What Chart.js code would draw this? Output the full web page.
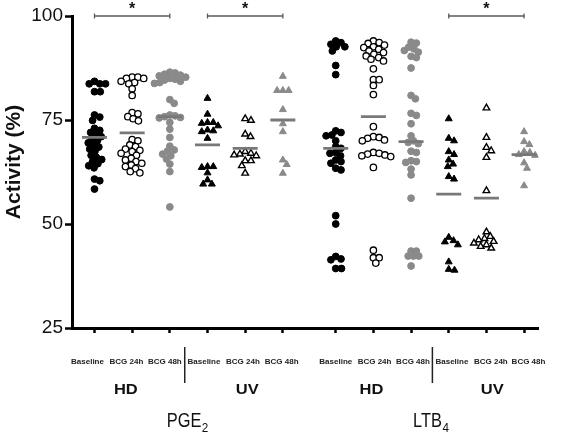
<!DOCTYPE html>
<html>
<head>
<meta charset="utf-8">
<script src="https://cdn.jsdelivr.net/npm/chart.js@4.4.1/dist/chart.umd.min.js"></script>
<style>
  html, body { margin: 0; padding: 0; background: #fff; }
  canvas { display: block; }
</style>
</head>
<body>
<canvas id="c" width="567" height="435"></canvas>
<script>
// ---------------- DATA ----------------
const categories = ['Baseline','BCG 24h','BCG 48h','Baseline','BCG 24h','BCG 48h',
                    'Baseline','BCG 24h','BCG 48h','Baseline','BCG 24h','BCG 48h'];
const cohortLabels = ['HD','UV','HD','UV'];
const mediatorLabels = [['PGE','2'], ['LTB','4']];
const yTicks = [25, 50, 75, 100];
const yAxisTitle = 'Activity (%)';

// PGE2
const pge2HdBaseline = [84.3, 83.7, 83.7, 83.7, 81.8, 81.8, 76.2, 75.7, 74.9, 73.0, 72.5, 72.0, 71.5, 71.0, 70.5,
                        70.0, 69.5, 69.0, 68.5, 68.0, 67.5, 66.5, 66.0, 65.5, 65.0, 64.5, 64.0, 63.5, 60.8, 60.4, 58.4];
const pge2HdBcg24   = [85.3, 85.3, 85.0, 85.0, 84.3, 84.0, 83.7, 82.5, 80.9, 76.8, 76.5, 75.8, 75.3, 74.8, 70.3, 70.0,
                        69.0, 68.6, 68.0, 67.7, 67.4, 67.0, 66.5, 65.8, 65.4, 65.0, 64.6, 64.2, 63.8, 63.3, 62.6, 62.3];
const pge2HdBcg48   = [86.5, 86.3, 86.0, 85.8, 85.6, 85.3, 85.0, 84.8, 84.6, 84.3, 84.0, 83.8, 79.9, 79.0, 76.2, 76.0,
                        75.8, 75.6, 75.5, 74.4, 72.8, 70.8, 68.7, 67.8, 67.5, 66.8, 66.4, 65.6, 64.4, 62.6, 54.1];
const pge2UvBaseline = [80.2, 76.4, 74.4, 74.4, 74.2, 73.6, 72.6, 72.4, 72.2, 70.6, 63.8, 63.8, 63.6, 62.3, 60.6, 59.6, 59.6];
const pge2UvBcg24   = [75.3, 74.9, 71.6, 71.0, 67.4, 67.0, 66.8, 66.6, 66.4, 65.2, 65.2, 64.0, 62.2];
const pge2UvBcg48   = [85.5, 82.1, 82.1, 82.1, 77.5, 74.1, 72.2, 65.4, 64.3, 62.2];
// LTB4
const ltb4HdBaseline = [94.0, 93.6, 93.2, 92.6, 92.6, 91.6, 88.1, 85.9, 72.4, 72.0, 71.4, 71.2, 70.0, 68.6, 68.2,
                        67.2, 67.0, 66.4, 65.4, 65.0, 64.6, 63.4, 63.0, 52.0, 50.0, 42.2, 41.6, 41.4, 39.3, 39.3];
const ltb4HdBcg24   = [94.0, 93.6, 93.4, 93.0, 92.6, 92.4, 92.0, 91.6, 91.2, 90.8, 90.4, 90.0, 89.6, 89.2, 87.3, 84.7,
                        84.7, 83.3, 81.1, 73.4, 71.0, 70.8, 70.6, 70.2, 70.0, 67.2, 67.0, 66.8, 66.6, 66.4, 66.2, 63.6,
                        43.7, 41.9, 41.9, 40.6];
const ltb4HdBcg48   = [93.7, 93.5, 92.5, 92.1, 91.7, 91.3, 90.3, 90.0, 87.5, 80.9, 80.1, 76.6, 76.1, 74.1, 71.2, 70.0,
                        69.6, 69.3, 67.5, 67.2, 65.2, 65.0, 64.8, 63.2, 61.8, 56.2, 43.5, 43.5, 42.3, 42.3, 42.3, 39.9];
const ltb4UvBaseline = [75.3, 70.6, 70.0, 67.4, 66.7, 65.4, 64.4, 63.8, 61.4, 60.8, 46.8, 46.0, 45.7, 45.0, 40.9, 39.1, 38.9];
const ltb4UvBcg24   = [77.9, 70.8, 68.4, 67.6, 66.0, 58.0, 48.1, 47.0, 46.5, 46.2, 45.8, 45.4, 45.0, 44.6, 44.2];
const ltb4UvBcg48   = [72.2, 69.8, 69.1, 67.4, 67.2, 66.7, 66.5, 64.7, 63.4, 59.2];

const groupMeans = [70.8, 71.9, 75.8, 69.0, 68.2, 75.0, 68.2, 75.8, 69.8, 57.2, 56.2, 66.7];
// significance brackets: [from group index, to group index, label]
const brackets = [[0, 2, '*'], [3, 5, '*'], [9, 11, '*']];
const bracketLevel = 100;

// ---------------- LAYOUT / STYLE ----------------
const series = [pge2HdBaseline, pge2HdBcg24, pge2HdBcg48, pge2UvBaseline, pge2UvBcg24, pge2UvBcg48,
                ltb4HdBaseline, ltb4HdBcg24, ltb4HdBcg48, ltb4UvBaseline, ltb4UvBcg24, ltb4UvBcg48];
const groupPos = categories.map((_, i) => i < 6 ? i + 1 : i + 1.403);
// category label anchors (labels in the figure sit slightly off the tick marks)
const labelPos = [0.814, 1.847, 2.867, 3.906, 4.939, 5.967, 7.405, 8.434, 9.454, 10.487, 11.52, 12.52];
const X_MIN = 0.403, X_MAX = 12.783;
const AREA = {left: 72, right: 557, top: 16, bottom: 328};
const X_PX = (AREA.right - AREA.left) / (X_MAX - X_MIN);
const Y_PX = (AREA.bottom - AREA.top) / 75;

const GREY = '#8a8a8a';
const styles = [
  {shape: 'circle',   fill: '#000',  stroke: '#000', r: 3.4, bw: 1,   gap: 5.7},
  {shape: 'circle',   fill: '#fff',  stroke: '#000', r: 3.2, bw: 1.3, gap: 5.8},
  {shape: 'circle',   fill: GREY,    stroke: GREY,   r: 3.4, bw: 1,   gap: 5.5},
  {shape: 'triangle', fill: '#000',  stroke: '#000', r: 4.0, bw: 1,   gap: 6},
  {shape: 'triangle', fill: '#fff',  stroke: '#000', r: 3.8, bw: 1.4, gap: 6},
  {shape: 'triangle', fill: GREY,    stroke: GREY,   r: 4.0, bw: 1,   gap: 6},
];

// Deterministic beeswarm placement (pixel space): each dot takes the
// smallest horizontal offset that keeps it clear of already-placed dots.
function swarm(values, center, gap) {
  const placed = [];
  const sorted = values.slice().sort((a, b) => b - a);
  for (const v of sorted) {
    const py = v * Y_PX;
    for (let k = 0; k < 200; k++) {
      const off = (k % 2 === 1 ? 1 : -1) * Math.ceil(k / 2) * 0.5;
      if (placed.every(q => Math.hypot(q.ox - off, q.py - py) >= gap)) {
        placed.push({ox: off, py, v});
        break;
      }
    }
  }
  return placed.map(q => ({x: center + q.ox / X_PX, y: q.v}));
}

const datasets = [];
series.forEach((vals, i) => {
  const st = styles[i % 6];
  datasets.push({
    type: 'scatter',
    data: swarm(vals, groupPos[i], st.gap),
    pointStyle: st.shape,
    pointRadius: st.r,
    pointBackgroundColor: st.fill,
    pointBorderColor: st.stroke,
    pointBorderWidth: st.bw,
    order: 2
  });
});
const HALF = 13 / X_PX;
groupMeans.forEach((m, i) => {
  datasets.push({
    type: 'line',
    data: [{x: groupPos[i] - HALF, y: m}, {x: groupPos[i] + HALF, y: m}],
    borderColor: '#787878',
    borderWidth: 2.8,
    pointRadius: 0,
    order: 1
  });
});
brackets.forEach(b => {
  datasets.push({
    type: 'line',
    data: [{x: groupPos[b[0]], y: bracketLevel}, {x: groupPos[b[1]], y: bracketLevel}],
    borderColor: '#5a5a5a',
    borderWidth: 1.3,
    pointStyle: 'line',
    rotation: 90,
    pointRadius: 2.5,
    pointBorderColor: '#5a5a5a',
    pointBorderWidth: 1.3,
    clip: false,
    order: 0
  });
});

function drawText(ctx, txt, x, y, font, sx, align, baseline) {
  ctx.save();
  ctx.font = font;
  ctx.textAlign = align || 'center';
  ctx.textBaseline = baseline || 'alphabetic';
  ctx.translate(x, y);
  ctx.scale(sx, 1);
  ctx.fillText(txt, 0, 0);
  ctx.restore();
}

const annotations = {
  id: 'annotations',
  afterDraw(chart) {
    const ctx = chart.ctx;
    const xs = chart.scales.x;
    const px = v => xs.getPixelForValue(v);
    ctx.save();
    ctx.fillStyle = '#111';
    brackets.forEach(b => {
      drawText(ctx, b[2], px((groupPos[b[0]] + groupPos[b[1]]) / 2), 13.5, 'bold 16px "Liberation Sans", Arial, sans-serif', 1);
    });
    ctx.strokeStyle = '#222';
    ctx.lineWidth = 1.5;
    [3.395, 9.969].forEach(v => {
      ctx.beginPath();
      ctx.moveTo(px(v), 347);
      ctx.lineTo(px(v), 383);
      ctx.stroke();
    });
    [1.832, 5.054, 8.352, 11.559].forEach((v, i) => {
      drawText(ctx, cohortLabels[i], px(v), 393.5, 'bold 15px "Liberation Sans", Arial, sans-serif', 1.1);
    });
    [3.464, 9.926].forEach((v, i) => {
      const [main, sub] = mediatorLabels[i];
      ctx.font = '21px "Liberation Sans", Arial, sans-serif';
      const wMain = ctx.measureText(main).width * 0.78;
      ctx.font = '13px "Liberation Sans", Arial, sans-serif';
      const wSub = ctx.measureText(sub).width * 0.9;
      const cx = px(v);
      const x0 = cx - (wMain + wSub) / 2;
      drawText(ctx, main, x0, 427, '21px "Liberation Sans", Arial, sans-serif', 0.78, 'left');
      drawText(ctx, sub, x0 + wMain + 0.5, 432, '13px "Liberation Sans", Arial, sans-serif', 0.9, 'left');
    });
    ctx.save();
    ctx.translate(14, 162);
    ctx.rotate(-Math.PI / 2);
    ctx.font = 'bold 21px "Liberation Sans", Arial, sans-serif';
    ctx.textAlign = 'center';
    ctx.textBaseline = 'middle';
    ctx.fillStyle = '#111';
    ctx.fillText(yAxisTitle, 0, 0);
    ctx.restore();
    ctx.restore();
  }
};

Chart.defaults.font.family = '"Liberation Sans", Arial, sans-serif';

new Chart(document.getElementById('c'), {
  type: 'scatter',
  data: {datasets},
  options: {
    responsive: false,
    animation: false,
    events: [],
    layout: {padding: {top: AREA.top, right: 567 - AREA.right, left: 0, bottom: 0}},
    plugins: {legend: {display: false}, tooltip: {enabled: false}},
    scales: {
      x: {
        type: 'linear',
        weight: 0,
        min: X_MIN, max: X_MAX,
        afterFit(s) { s.height = 8; },
        afterBuildTicks(s) { s.ticks = groupPos.map(v => ({value: v})); },
        ticks: {display: false},
        grid: {drawOnChartArea: false, drawTicks: true, tickLength: 5, tickWidth: 2.5, tickColor: '#000'},
        border: {display: true, color: '#000', width: 3}
      },
      xLabels: {
        type: 'linear',
        position: 'bottom',
        weight: 1,
        min: X_MIN, max: X_MAX,
        afterFit(s) { s.height = 435 - AREA.bottom - 8; },
        afterBuildTicks(s) { s.ticks = labelPos.map(v => ({value: v})); },
        ticks: {
          autoSkip: false, maxRotation: 0, minRotation: 0,
          padding: 21,
          color: '#222',
          font: {size: 8, weight: 'bold'},
          callback: (v, idx) => categories[idx]
        },
        grid: {display: false, drawTicks: false},
        border: {display: false}
      },
      y: {
        type: 'linear',
        min: 25, max: 100,
        afterFit(s) { s.width = AREA.left; },
        afterBuildTicks(s) { s.ticks = yTicks.map(v => ({value: v})); },
        ticks: {padding: 2, color: '#111', font: {size: 19}},
        grid: {drawOnChartArea: false, drawTicks: true, tickLength: 7, tickWidth: 2.5, tickColor: '#000'},
        border: {display: true, color: '#000', width: 3}
      }
    }
  },
  plugins: [annotations]
});
</script>
</body>
</html>
